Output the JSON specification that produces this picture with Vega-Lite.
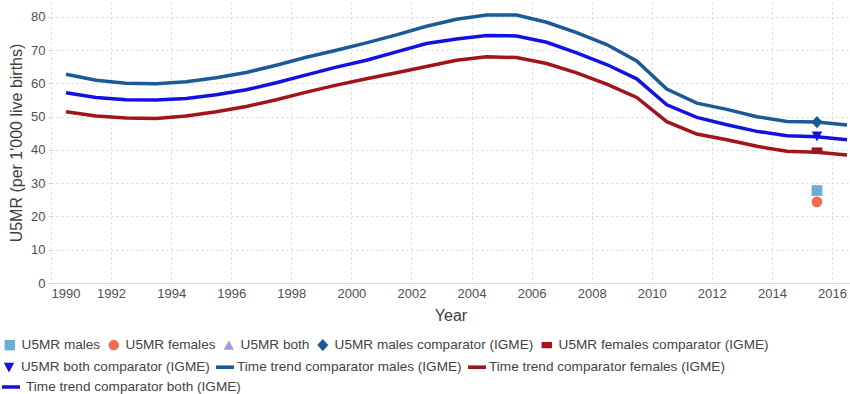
{
  "$schema": "https://vega.github.io/schema/vega-lite/v6.json",
  "width": 799,
  "height": 281,
  "autosize": {"type": "none"},
  "padding": {"left": 51, "top": 2, "right": 0, "bottom": 111},
  "data": {
    "values": [
      {"year": 1990.5, "value": 62.8, "series": "Time trend comparator males (IGME)"},
      {"year": 1991.5, "value": 61.0, "series": "Time trend comparator males (IGME)"},
      {"year": 1992.5, "value": 60.1, "series": "Time trend comparator males (IGME)"},
      {"year": 1993.5, "value": 59.9, "series": "Time trend comparator males (IGME)"},
      {"year": 1994.5, "value": 60.5, "series": "Time trend comparator males (IGME)"},
      {"year": 1995.5, "value": 61.7, "series": "Time trend comparator males (IGME)"},
      {"year": 1996.5, "value": 63.3, "series": "Time trend comparator males (IGME)"},
      {"year": 1997.5, "value": 65.5, "series": "Time trend comparator males (IGME)"},
      {"year": 1998.5, "value": 67.9, "series": "Time trend comparator males (IGME)"},
      {"year": 1999.5, "value": 70.0, "series": "Time trend comparator males (IGME)"},
      {"year": 2000.5, "value": 72.2, "series": "Time trend comparator males (IGME)"},
      {"year": 2001.5, "value": 74.6, "series": "Time trend comparator males (IGME)"},
      {"year": 2002.5, "value": 77.2, "series": "Time trend comparator males (IGME)"},
      {"year": 2003.5, "value": 79.3, "series": "Time trend comparator males (IGME)"},
      {"year": 2004.5, "value": 80.6, "series": "Time trend comparator males (IGME)"},
      {"year": 2005.5, "value": 80.6, "series": "Time trend comparator males (IGME)"},
      {"year": 2006.5, "value": 78.4, "series": "Time trend comparator males (IGME)"},
      {"year": 2007.5, "value": 75.3, "series": "Time trend comparator males (IGME)"},
      {"year": 2008.5, "value": 71.7, "series": "Time trend comparator males (IGME)"},
      {"year": 2009.5, "value": 66.8, "series": "Time trend comparator males (IGME)"},
      {"year": 2010.5, "value": 58.3, "series": "Time trend comparator males (IGME)"},
      {"year": 2011.5, "value": 54.1, "series": "Time trend comparator males (IGME)"},
      {"year": 2012.5, "value": 52.2, "series": "Time trend comparator males (IGME)"},
      {"year": 2013.5, "value": 50.0, "series": "Time trend comparator males (IGME)"},
      {"year": 2014.5, "value": 48.6, "series": "Time trend comparator males (IGME)"},
      {"year": 2015.5, "value": 48.4, "series": "Time trend comparator males (IGME)"},
      {"year": 2016.5, "value": 47.5, "series": "Time trend comparator males (IGME)"},

      {"year": 1990.5, "value": 57.2, "series": "Time trend comparator both (IGME)"},
      {"year": 1991.5, "value": 55.8, "series": "Time trend comparator both (IGME)"},
      {"year": 1992.5, "value": 55.1, "series": "Time trend comparator both (IGME)"},
      {"year": 1993.5, "value": 55.0, "series": "Time trend comparator both (IGME)"},
      {"year": 1994.5, "value": 55.5, "series": "Time trend comparator both (IGME)"},
      {"year": 1995.5, "value": 56.6, "series": "Time trend comparator both (IGME)"},
      {"year": 1996.5, "value": 58.1, "series": "Time trend comparator both (IGME)"},
      {"year": 1997.5, "value": 60.2, "series": "Time trend comparator both (IGME)"},
      {"year": 1998.5, "value": 62.6, "series": "Time trend comparator both (IGME)"},
      {"year": 1999.5, "value": 64.9, "series": "Time trend comparator both (IGME)"},
      {"year": 2000.5, "value": 67.0, "series": "Time trend comparator both (IGME)"},
      {"year": 2001.5, "value": 69.5, "series": "Time trend comparator both (IGME)"},
      {"year": 2002.5, "value": 72.0, "series": "Time trend comparator both (IGME)"},
      {"year": 2003.5, "value": 73.4, "series": "Time trend comparator both (IGME)"},
      {"year": 2004.5, "value": 74.4, "series": "Time trend comparator both (IGME)"},
      {"year": 2005.5, "value": 74.3, "series": "Time trend comparator both (IGME)"},
      {"year": 2006.5, "value": 72.4, "series": "Time trend comparator both (IGME)"},
      {"year": 2007.5, "value": 69.2, "series": "Time trend comparator both (IGME)"},
      {"year": 2008.5, "value": 65.7, "series": "Time trend comparator both (IGME)"},
      {"year": 2009.5, "value": 61.4, "series": "Time trend comparator both (IGME)"},
      {"year": 2010.5, "value": 53.6, "series": "Time trend comparator both (IGME)"},
      {"year": 2011.5, "value": 49.8, "series": "Time trend comparator both (IGME)"},
      {"year": 2012.5, "value": 47.6, "series": "Time trend comparator both (IGME)"},
      {"year": 2013.5, "value": 45.6, "series": "Time trend comparator both (IGME)"},
      {"year": 2014.5, "value": 44.3, "series": "Time trend comparator both (IGME)"},
      {"year": 2015.5, "value": 44.0, "series": "Time trend comparator both (IGME)"},
      {"year": 2016.5, "value": 43.1, "series": "Time trend comparator both (IGME)"},

      {"year": 1990.5, "value": 51.5, "series": "Time trend comparator females (IGME)"},
      {"year": 1991.5, "value": 50.2, "series": "Time trend comparator females (IGME)"},
      {"year": 1992.5, "value": 49.6, "series": "Time trend comparator females (IGME)"},
      {"year": 1993.5, "value": 49.5, "series": "Time trend comparator females (IGME)"},
      {"year": 1994.5, "value": 50.2, "series": "Time trend comparator females (IGME)"},
      {"year": 1995.5, "value": 51.5, "series": "Time trend comparator females (IGME)"},
      {"year": 1996.5, "value": 53.1, "series": "Time trend comparator females (IGME)"},
      {"year": 1997.5, "value": 55.1, "series": "Time trend comparator females (IGME)"},
      {"year": 1998.5, "value": 57.4, "series": "Time trend comparator females (IGME)"},
      {"year": 1999.5, "value": 59.5, "series": "Time trend comparator females (IGME)"},
      {"year": 2000.5, "value": 61.4, "series": "Time trend comparator females (IGME)"},
      {"year": 2001.5, "value": 63.2, "series": "Time trend comparator females (IGME)"},
      {"year": 2002.5, "value": 65.1, "series": "Time trend comparator females (IGME)"},
      {"year": 2003.5, "value": 67.0, "series": "Time trend comparator females (IGME)"},
      {"year": 2004.5, "value": 68.0, "series": "Time trend comparator females (IGME)"},
      {"year": 2005.5, "value": 67.8, "series": "Time trend comparator females (IGME)"},
      {"year": 2006.5, "value": 66.0, "series": "Time trend comparator females (IGME)"},
      {"year": 2007.5, "value": 63.2, "series": "Time trend comparator females (IGME)"},
      {"year": 2008.5, "value": 59.8, "series": "Time trend comparator females (IGME)"},
      {"year": 2009.5, "value": 55.8, "series": "Time trend comparator females (IGME)"},
      {"year": 2010.5, "value": 48.5, "series": "Time trend comparator females (IGME)"},
      {"year": 2011.5, "value": 44.8, "series": "Time trend comparator females (IGME)"},
      {"year": 2012.5, "value": 43.1, "series": "Time trend comparator females (IGME)"},
      {"year": 2013.5, "value": 41.1, "series": "Time trend comparator females (IGME)"},
      {"year": 2014.5, "value": 39.6, "series": "Time trend comparator females (IGME)"},
      {"year": 2015.5, "value": 39.3, "series": "Time trend comparator females (IGME)"},
      {"year": 2016.5, "value": 38.5, "series": "Time trend comparator females (IGME)"},

      {"year": 2015.5, "value": 27.8, "series": "U5MR males"},
      {"year": 2015.5, "value": 24.4, "series": "U5MR females"},
      {"year": 2015.5, "value": 48.4, "series": "U5MR males comparator (IGME)"},
      {"year": 2015.5, "value": 39.8, "series": "U5MR females comparator (IGME)"},
      {"year": 2015.5, "value": 44.2, "series": "U5MR both comparator (IGME)"}
    ]
  },
  "encoding": {
    "x": {
      "field": "year", "type": "quantitative",
      "scale": {"domain": [1990, 2016.6], "nice": false, "zero": false},
      "axis": {"title": "Year", "values": [1990,1992,1994,1996,1998,2000,2002,2004,2006,2008,2010,2012,2014,2016], "format": "d",
               "domain": true, "domainColor": "#dcdcdc", "ticks": false, "labelPadding": 4, "titlePadding": 7}
    },
    "y": {
      "field": "value", "type": "quantitative",
      "scale": {"domain": [0, 84.5], "nice": false},
      "axis": {"title": "U5MR (per 1'000 live births)", "values": [0,10,20,30,40,50,60,70,80],
               "domain": false, "ticks": true, "tickSize": 3, "tickColor": "#d0d0d0", "labelPadding": 3, "titlePadding": 6}
    }
  },
  "layer": [
    {
      "transform": [{"filter": {"field": "series", "equal": "Time trend comparator both (IGME)"}}],
      "mark": {"type": "line", "strokeWidth": 3.5},
      "encoding": {
        "color": {
          "field": "series", "type": "nominal",
          "scale": {"domain": ["Time trend comparator both (IGME)"], "range": ["#1212e0"]},
          "legend": {"title": null, "orient": "none", "legendX": -51, "legendY": 374, "direction": "horizontal",
                     "symbolType": "stroke", "symbolSize": 324, "symbolStrokeWidth": 3.5, "labelOffset": 4}
        }
      }
    },
    {
      "transform": [{"filter": {"field": "series", "oneOf": ["Time trend comparator males (IGME)", "Time trend comparator females (IGME)"]}}],
      "mark": {"type": "line", "strokeWidth": 3.5},
      "encoding": {
        "color": {
          "field": "series", "type": "nominal",
          "scale": {"domain": ["Time trend comparator males (IGME)", "Time trend comparator females (IGME)"],
                    "range": ["#1a5a96", "#a3131c"]},
          "legend": null
        }
      }
    },
    {
      "transform": [{"filter": {"field": "series", "equal": "U5MR both comparator (IGME)"}}],
      "mark": {"type": "point", "filled": true, "opacity": 1, "size": 324},
      "encoding": {
        "color": {
          "field": "series", "type": "nominal",
          "scale": {"domain": ["U5MR both comparator (IGME)", "Time trend comparator males (IGME)", "Time trend comparator females (IGME)"],
                    "range": ["#1212e0", "#1a5a96", "#a3131c"]},
          "legend": {"title": null, "orient": "none", "legendX": -51, "legendY": 356, "direction": "horizontal",
                     "symbolSize": 324, "symbolStrokeWidth": 0, "labelOffset": 3}
        },
        "shape": {
          "field": "series", "type": "nominal",
          "scale": {"domain": ["U5MR both comparator (IGME)", "Time trend comparator males (IGME)", "Time trend comparator females (IGME)"],
                    "range": ["M-0.58,-0.5L0.58,-0.5L0,0.6Z", "M-1,-0.2H1V0.2H-1Z", "M-1,-0.2H1V0.2H-1Z"]},
          "legend": {"title": null, "orient": "none", "legendX": -51, "legendY": 356, "direction": "horizontal",
                     "symbolSize": 324, "symbolStrokeWidth": 0, "labelOffset": 3}
        }
      }
    },
    {
      "transform": [{"filter": {"field": "series", "oneOf": ["U5MR males", "U5MR females", "U5MR both", "U5MR males comparator (IGME)", "U5MR females comparator (IGME)"]}}],
      "mark": {"type": "point", "filled": true, "opacity": 1, "size": 115},
      "encoding": {
        "color": {
          "field": "series", "type": "nominal",
          "scale": {"domain": ["U5MR males", "U5MR females", "U5MR both", "U5MR males comparator (IGME)", "U5MR females comparator (IGME)"],
                    "range": ["#6aaed6", "#f46a4e", "#9e9ae0", "#1a5a96", "#a3131c"]},
          "legend": {"title": null, "orient": "none", "legendX": -48, "legendY": 336, "direction": "horizontal",
                     "symbolSize": 110, "symbolStrokeWidth": 0, "labelOffset": 5}
        },
        "shape": {
          "field": "series", "type": "nominal",
          "scale": {"domain": ["U5MR males", "U5MR females", "U5MR both", "U5MR males comparator (IGME)", "U5MR females comparator (IGME)"],
                    "range": ["square", "circle", "triangle-up", "M0,-1.15L1.05,0L0,1.15L-1.05,0Z", "M-1,-0.6H1V0.6H-1Z"]},
          "legend": {"title": null, "orient": "none", "legendX": -48, "legendY": 336, "direction": "horizontal",
                     "symbolSize": 110, "symbolStrokeWidth": 0, "labelOffset": 5}
        }
      }
    }
  ],
  "resolve": {
    "scale": {"color": "independent", "shape": "independent"},
    "legend": {"color": "independent", "shape": "independent"}
  },
  "config": {
    "view": {"stroke": null},
    "font": "Liberation Sans",
    "axis": {
      "labelFont": "Liberation Sans", "labelFontSize": 13, "labelColor": "#505050",
      "titleFont": "Liberation Sans", "titleFontSize": 16, "titleFontWeight": "normal", "titleColor": "#404040",
      "grid": true, "gridColor": "#d6d6d6", "gridDash": [2, 3], "gridWidth": 1
    },
    "legend": {
      "labelFont": "Liberation Sans", "labelFontSize": 13.6, "labelColor": "#444444",
      "padding": 0, "columnPadding": 6, "labelLimit": 0
    }
  }
}
